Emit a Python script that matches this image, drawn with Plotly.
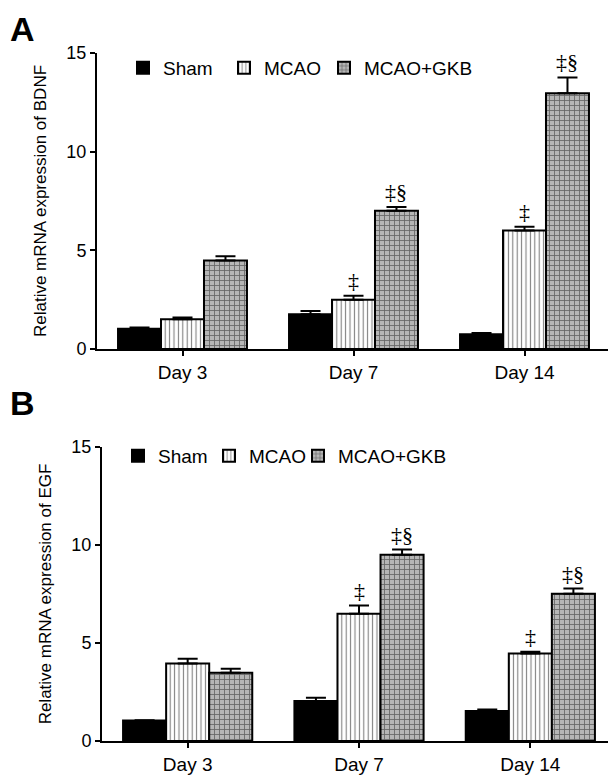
import plotly.graph_objects as go

days = ["Day 3", "Day 7", "Day 14"]
groups = ["Sham", "MCAO", "MCAO+GKB"]

# Panel A: BDNF
bdnf_sham = [1.02, 1.76, 0.75]
bdnf_mcao = [1.51, 2.49, 6.00]
bdnf_gkb = [4.48, 7.01, 12.96]
bdnf_sham_err = [0.07, 0.17, 0.06]
bdnf_mcao_err = [0.09, 0.21, 0.19]
bdnf_gkb_err = [0.22, 0.18, 0.80]
bdnf_marks = [["", "", ""], ["", "‡", "‡"], ["", "‡§", "‡§"]]

# Panel B: EGF
egf_sham = [1.04, 2.04, 1.53]
egf_mcao = [3.96, 6.49, 4.47]
egf_gkb = [3.48, 9.50, 7.51]
egf_sham_err = [0.02, 0.17, 0.08]
egf_mcao_err = [0.24, 0.42, 0.08]
egf_gkb_err = [0.21, 0.27, 0.27]
egf_marks = [["", "", ""], ["", "‡", "‡"], ["", "‡§", "‡§"]]

W, H = 616, 775
OFF = 8  # page body margin
FONT = "Liberation Sans"
BARGAP = 0.246


def fx(px):
    return (px - OFF) / W


def fy(py):
    return 1 - (py - OFF) / H


styles = [
    dict(color="black", pattern=None),
    dict(color="white", pattern=dict(shape="|", fgcolor="black", bgcolor="white", size=4.4, solidity=0.25)),
    dict(color="#aaaaaa", pattern=dict(shape="+", fgcolor="#111111", bgcolor="#b6b6b6", size=5, solidity=0.3)),
]

fig = go.Figure()
xpos = list(range(len(days)))


def add_panel(vals, errs, xa, ya, legend, widths):
    for i, (name, v, e) in enumerate(zip(groups, vals, errs)):
        st = styles[i]
        marker = dict(color=st["color"], line=dict(color="black", width=2))
        if st["pattern"]:
            marker["pattern"] = st["pattern"]
        fig.add_trace(go.Bar(
            x=xpos, y=v, name=name, marker=marker,
            error_y=dict(type="data", symmetric=False, array=e, arrayminus=[0] * len(e),
                         color="black", thickness=2, width=10),
            xaxis=xa, yaxis=ya, legend=legend, legendwidth=widths[i],
        ))


add_panel([bdnf_sham, bdnf_mcao, bdnf_gkb], [bdnf_sham_err, bdnf_mcao_err, bdnf_gkb_err],
          "x", "y", "legend", [56, 55, 110])
add_panel([egf_sham, egf_mcao, egf_gkb], [egf_sham_err, egf_mcao_err, egf_gkb_err],
          "x2", "y2", "legend2", [46, 44, 110])

barw = (1 - BARGAP) / 3
offsets = [-barw, 0, barw]
annotations = []


def add_marks(vals, errs, marks, xr, yr):
    for g in range(3):
        for d in range(3):
            t = marks[g][d]
            if t:
                annotations.append(dict(
                    x=xpos[d] + offsets[g], y=vals[g][d] + errs[g][d], xref=xr, yref=yr,
                    text=t, showarrow=False, yanchor="bottom", yshift=1,
                    font=dict(family="Liberation Serif", size=22, color="black")))


add_marks([bdnf_sham, bdnf_mcao, bdnf_gkb], [bdnf_sham_err, bdnf_mcao_err, bdnf_gkb_err], bdnf_marks, "x", "y")
add_marks([egf_sham, egf_mcao, egf_gkb], [egf_sham_err, egf_mcao_err, egf_gkb_err], egf_marks, "x2", "y2")

annotations.append(dict(x=0.0, y=1.0, xref="paper", yref="paper", xanchor="left", yanchor="top",
                        text="A", showarrow=False, font=dict(family=FONT, size=34, color="black", weight="bold")))
annotations.append(dict(x=0.0, y=fy(403), xref="paper", yref="paper", xanchor="left", yanchor="middle",
                        text="B", showarrow=False, font=dict(family=FONT, size=34, color="black", weight="bold")))


def xaxis(domain, anchor):
    return dict(domain=domain, anchor=anchor, range=[-0.5, 2.5], tickvals=xpos, ticktext=days,
                ticks="outside", ticklen=5, tickwidth=2, tickcolor="black",
                showline=True, linewidth=2, linecolor="black", showgrid=False, zeroline=False,
                automargin=False,
                tickfont=dict(family=FONT, size=19, color="black"))


def yaxis(domain, anchor, title):
    return dict(domain=domain, anchor=anchor, range=[0, 15], dtick=5,
                ticks="outside", ticklen=5, tickwidth=2, tickcolor="black",
                showline=True, linewidth=2, linecolor="black", showgrid=False, zeroline=False,
                automargin=False,
                tickfont=dict(family=FONT, size=18, color="black"),
                title=dict(text=title, font=dict(family=FONT, size=17, color="black"), standoff=15))


fig.update_layout(
    width=W, height=H, margin=dict(l=0, r=0, t=0, b=0, pad=0, autoexpand=False),
    paper_bgcolor="white", plot_bgcolor="white",
    barmode="group", bargap=BARGAP, bargroupgap=0,
    xaxis=xaxis([fx(97), fx(610)], "y"),
    yaxis=yaxis([fy(349), fy(53)], "x", "Relative mRNA expression of BDNF"),
    xaxis2=xaxis([fx(102), fx(616)], "y2"),
    yaxis2=yaxis([fy(741), fy(447)], "x2", "Relative mRNA expression of EGF"),
    legend=dict(orientation="h", x=115 / W, y=1 - 60 / H, xanchor="left", yanchor="middle",
                font=dict(family=FONT, size=19, color="black"), bgcolor="rgba(0,0,0,0)",
                itemclick=False, tracegroupgap=0),
    legend2=dict(orientation="h", x=110 / W, y=1 - 448 / H, xanchor="left", yanchor="middle",
                 font=dict(family=FONT, size=19, color="black"), bgcolor="rgba(0,0,0,0)",
                 itemclick=False, tracegroupgap=0),
    annotations=annotations,
    showlegend=True,
)

fig.write_html("out.html")
